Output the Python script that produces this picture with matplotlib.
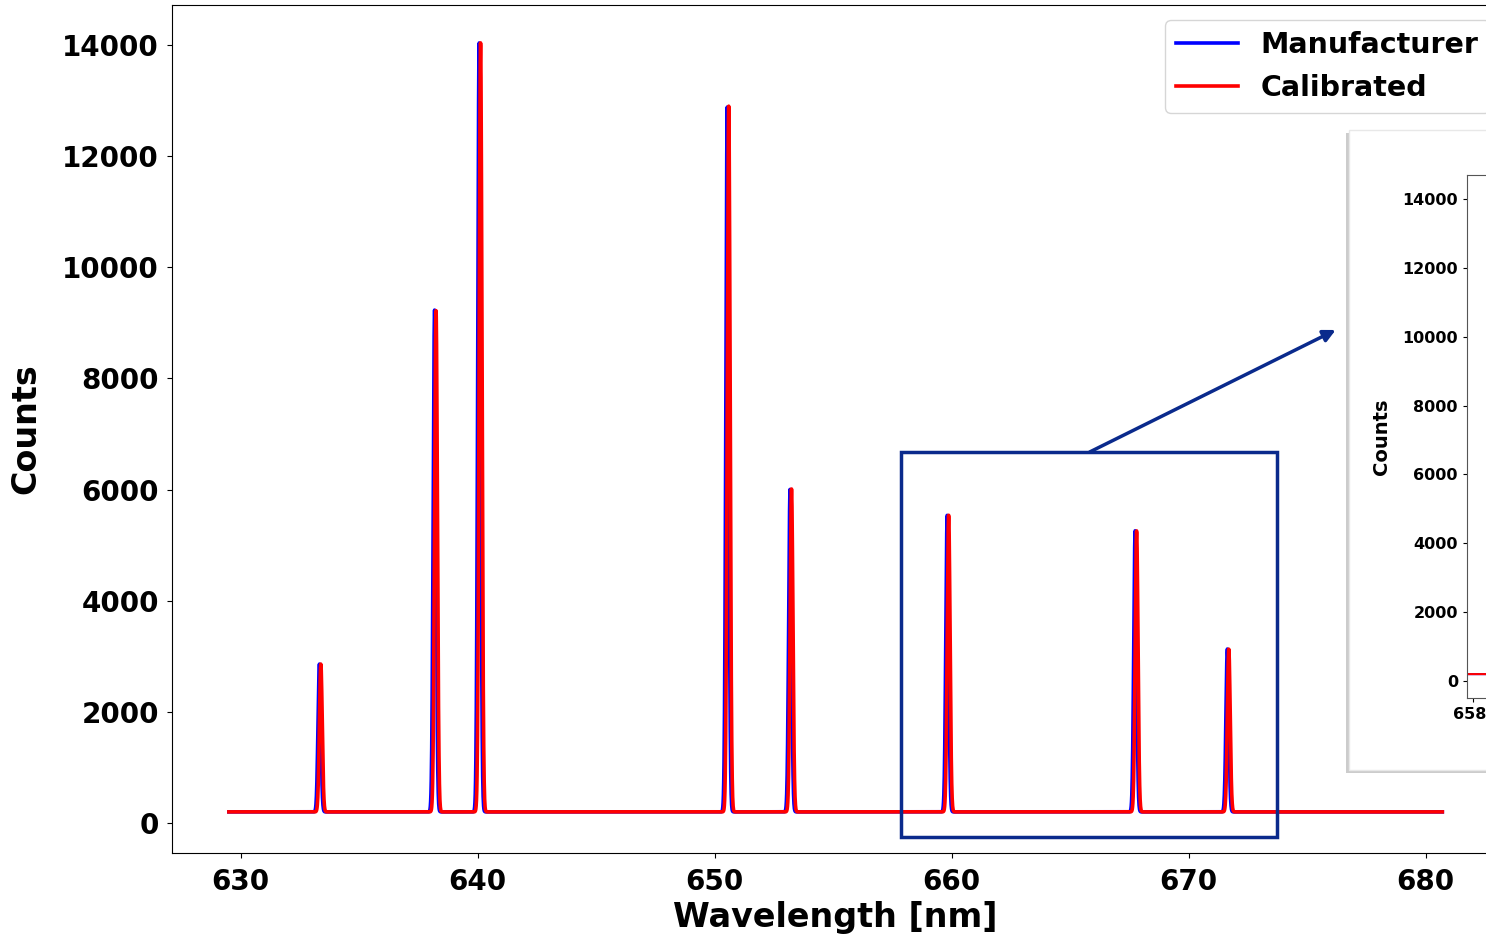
import matplotlib.pyplot as plt
import numpy as np
from matplotlib.patches import Rectangle
from matplotlib.transforms import ScaledTranslation

# peak positions (nm) and heights (counts)
calib_centers = [633.38, 638.24, 640.12, 650.59, 653.24, 659.87, 667.80, 671.69]
manuf_centers = [633.32, 638.18, 640.06, 650.53, 653.18, 659.81, 667.74, 671.63]
peak_heights = [2860, 9230, 14040, 12900, 6010, 5540, 5260, 3130]
baseline = 200
wl_start, wl_end = 629.5, 680.7
line_sigma = 0.06

wl = np.linspace(wl_start, wl_end, 8000)


def spectrum(centers):
    s = np.full_like(wl, baseline, dtype=float)
    for c, h in zip(centers, peak_heights):
        s += (h - baseline) * np.exp(-0.5 * ((wl - c) / line_sigma) ** 2)
    return s


manuf = spectrum(manuf_centers)
calib = spectrum(calib_centers)

navy = "#0a2a8c"

fig = plt.figure(figsize=(14.86, 9.38), dpi=100)
# axes runs past the right edge of the figure (picture is cropped there)
ax = fig.add_axes([172 / 1486, 1 - 853 / 938, 1428 / 1486, 848 / 938])
ax.plot(wl, manuf, color="blue", lw=2.6, label="Manufacturer")
ax.plot(wl, calib, color="red", lw=2.6, label="Calibrated")
ax.set_xlim(627.1, 627.1 + 1428 / 23.7)
ax.set_ylim(-540, 14720)
ax.set_xticks([630, 640, 650, 660, 670, 680])
ax.set_yticks(range(0, 14001, 2000))
ax.tick_params(labelsize=20)
ax.tick_params(axis="y", pad=6)
ax.tick_params(axis="x", pad=7)
for t in ax.get_xticklabels() + ax.get_yticklabels():
    t.set_fontweight("bold")
ax.spines["right"].set_visible(False)
ax.set_xlabel("Wavelength [nm]", fontsize=24, fontweight="bold")
ax.xaxis.set_label_coords(835 / 1486, 1 - 901 / 938, transform=fig.transFigure)
ax.set_ylabel("Counts", fontsize=24, fontweight="bold", labelpad=14)
leg = ax.legend(loc="upper left", bbox_to_anchor=(1165 / 1486, 1 - 20 / 938),
                bbox_transform=fig.transFigure, borderaxespad=0,
                handlelength=2.15, prop={"size": 20.5, "weight": "bold"})

# zoom box and arrow
ax.add_patch(Rectangle((657.85, -252), 673.71 - 657.85, 6676 + 252,
                       fill=False, edgecolor=navy, lw=2.5, zorder=5))
ax.annotate("", xy=(676.2, 8872), xytext=(665.82, 6676),
            arrowprops=dict(arrowstyle="-|>", color=navy, lw=2.5,
                            mutation_scale=18, shrinkA=0, shrinkB=0))

# inset panel with shadow
fig.patches.append(Rectangle((1346 / 1486, 1 - 773 / 938), 0.2, (773 - 133) / 938,
                             transform=fig.transFigure, facecolor="#cccccc",
                             edgecolor="none", zorder=1))
fig.patches.append(Rectangle((1349 / 1486, 1 - 770 / 938), 0.2, (770 - 130) / 938,
                             transform=fig.transFigure, facecolor="white",
                             edgecolor="#e8e8e8", lw=1, zorder=1.5))

ins = fig.add_axes([1467 / 1486, 1 - 698 / 938, 0.3, 523 / 938], zorder=3)
ins.plot(wl, manuf, color="blue", lw=1.5)
ins.plot(wl, calib, color="red", lw=1.5)
ins.set_xlim(657.8, 674)
ins.set_ylim(-494, 14697)
ins.set_xticks([658])
ins.set_yticks(range(0, 14001, 2000))
ins.tick_params(labelsize=11.5, length=3)
for t in ins.get_xticklabels() + ins.get_yticklabels():
    t.set_fontweight("bold")
for t in ins.get_xticklabels():
    t.set_transform(t.get_transform() + ScaledTranslation(-3 / 100, 0, fig.dpi_scale_trans))
ins.set_ylabel("Counts", fontsize=14, fontweight="bold", labelpad=8)
for sp in ins.spines.values():
    sp.set_color("#555555")

fig.savefig("out.png", dpi=100)
